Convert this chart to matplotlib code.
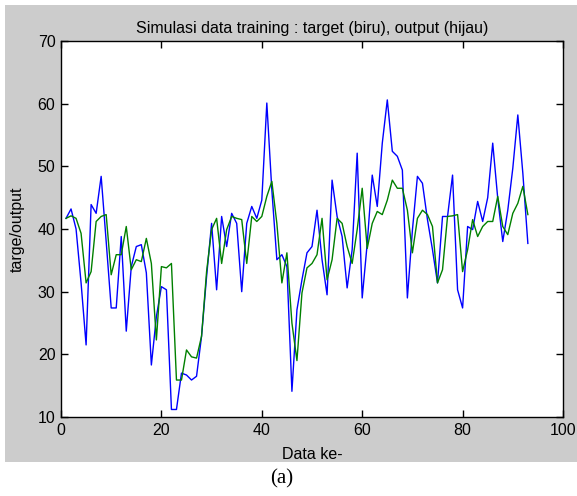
import matplotlib
matplotlib.use("Agg")
import matplotlib.pyplot as plt
from matplotlib.patches import Rectangle

# Data ke- 1..93
data_ke = list(range(1, 94))

# target (biru)
target = [41.7, 43.2, 40.0, 31.4, 21.5, 43.9, 42.5, 48.4, 38.0, 27.4,
          27.4, 38.8, 23.7, 34.0, 37.2, 37.5, 33.0, 18.3, 26.0, 30.8,
          30.3, 11.2, 11.2, 17.0, 16.7, 15.9, 16.5, 22.9, 32.4, 40.9,
          30.3, 42.0, 37.2, 42.5, 40.9, 30.0, 40.9, 43.6, 41.7, 44.6,
          60.1, 46.2, 35.1, 35.9, 34.0, 14.1, 27.1, 31.9, 36.2, 37.2,
          43.0, 35.1, 29.5, 47.8, 42.0, 38.8, 30.6, 36.7, 52.1, 29.0,
          37.7, 48.6, 43.6, 53.7, 60.6, 52.4, 51.6, 49.4, 29.0, 39.8,
          48.4, 47.3, 41.5, 36.7, 31.4, 42.0, 42.0, 48.6, 30.3, 27.4,
          40.4, 39.9, 44.4, 41.2, 45.0, 53.7, 44.9, 38.0, 43.0, 49.7,
          58.2, 48.9, 37.7]

# output (hijau)
output = [41.7, 42.1, 41.7, 39.3, 31.4, 33.2, 41.2, 42.0, 42.3, 32.7,
          35.9, 35.9, 40.4, 33.5, 35.1, 34.8, 38.5, 34.5, 22.3, 34.0,
          33.8, 34.5, 15.9, 15.9, 20.7, 19.6, 19.4, 22.9, 33.2, 39.9,
          41.7, 34.5, 39.9, 42.0, 41.7, 41.5, 34.5, 42.0, 41.2, 42.0,
          45.2, 47.6, 40.9, 31.4, 36.2, 25.0, 19.0, 29.8, 33.8, 34.5,
          35.9, 41.7, 31.9, 35.1, 41.7, 40.9, 37.2, 34.5, 39.9, 46.5,
          36.9, 40.9, 42.8, 42.3, 44.6, 47.8, 46.5, 46.5, 43.0, 36.2,
          41.7, 43.0, 42.3, 40.4, 31.4, 33.5, 42.0, 42.1, 42.3, 33.2,
          36.7, 41.5, 38.8, 40.4, 41.2, 41.2, 45.2, 40.4, 39.1, 42.5,
          44.1, 46.8, 42.3]

xticks = [0, 20, 40, 60, 80, 100]
yticks = [10, 20, 30, 40, 50, 60, 70]

plt.rcParams['font.family'] = ['Liberation Sans', 'DejaVu Sans']

W, H = 577, 496
fig = plt.figure(figsize=(W / 100, H / 100), dpi=100, facecolor='white')

# grey matlab figure background
fig.patches.append(Rectangle((5 / W, (H - 462) / H), 572 / W, 457 / H,
                             transform=fig.transFigure, facecolor='#cccccc',
                             edgecolor='none', zorder=-10))

ax = fig.add_axes([61 / W, (H - 417) / H, 502 / W, 376 / H])
ax.set_facecolor('white')
ax.plot(data_ke, target, color='#0000ff', linewidth=1.0)
ax.plot(data_ke, output, color='#008000', linewidth=1.0)

ax.set_xlim(0, 100)
ax.set_ylim(10, 70)
ax.set_xticks(xticks)
ax.set_yticks(yticks)
ax.tick_params(direction='in', top=True, right=True, length=5, width=1,
               labelsize=11.5, pad=4)
for s in ax.spines.values():
    s.set_linewidth(1)

ax.set_title('Simulasi data training : target (biru), output (hijau)',
             fontsize=11.5, pad=6)
ax.set_xlabel('Data ke-', fontsize=11.5, labelpad=7)
ax.set_ylabel('targe/output', fontsize=11.5, labelpad=9)

fig.text(282 / W, 1 - 479 / H, '(a)', ha='center', va='center',
         fontsize=15, family='Liberation Serif')

fig.savefig('out.png', dpi=100, facecolor='white')
